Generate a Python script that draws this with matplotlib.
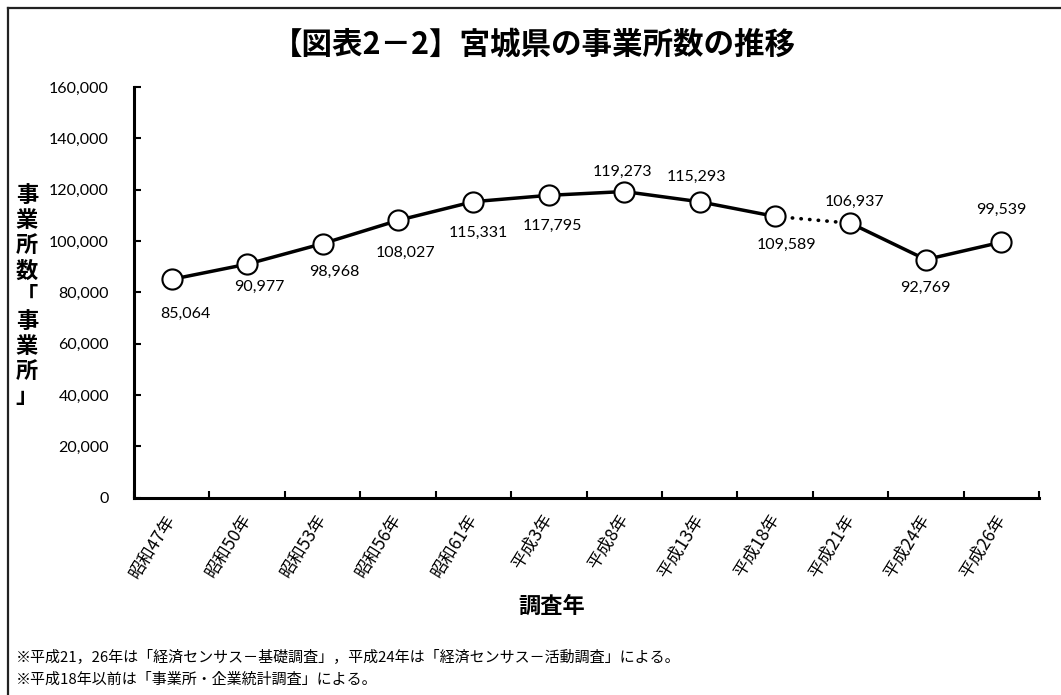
import matplotlib
matplotlib.use("Agg")
import matplotlib.pyplot as plt
from matplotlib.lines import Line2D

plt.rcParams['font.family'] = ['Noto Sans CJK JP', 'DejaVu Sans']

years = ['昭和47年', '昭和50年', '昭和53年', '昭和56年', '昭和61年', '平成3年',
         '平成8年', '平成13年', '平成18年', '平成21年', '平成24年', '平成26年']
counts = [85064, 90977, 98968, 108027, 115331, 117795,
          119273, 115293, 109589, 106937, 92769, 99539]
yticks = [0, 20000, 40000, 60000, 80000, 100000, 120000, 140000, 160000]

title = '【図表2－2】宮城県の事業所数の推移'
ylabel = '事業所数「事業所」'
xlabel = '調査年'
notes = ['※平成21，26年は「経済センサス－基礎調査」，平成24年は「経済センサス－活動調査」による。',
         '※平成18年以前は「事業所・企業統計調査」による。']

# label offsets in pixels (dx, dy) relative to each marker
label_off = [(14, -35), (12, -23), (12, -28), (8, -32), (5, -31), (4, -31),
             (-2, 20), (-3, 25), (11, -28), (4, 21), (0, -28), (0, 32)]

W, H = 1061, 695
fig = plt.figure(figsize=(W / 100, H / 100), dpi=100)
ax = fig.add_axes([134 / W, 1 - 497.7 / H, (1039 - 134) / W, (497.7 - 87) / H])

x = list(range(len(years)))
numfam = ['Lato', 'Noto Sans CJK JP']

# solid parts and dotted connection (survey change)
ax.plot(x[:9], counts[:9], color='black', lw=2.5, solid_capstyle='round', zorder=2)
ax.plot(x[8:10], counts[8:10], color='black', lw=2.6,
        linestyle=(0, (0.1, 2.3)), dash_capstyle='round', zorder=2)
ax.plot(x[9:], counts[9:], color='black', lw=2.5, solid_capstyle='round', zorder=2)
ax.plot(x, counts, linestyle='none', marker='o', ms=14.5, mfc='white',
        mec='black', mew=1.5, zorder=3)

for xi, v, (dx, dy) in zip(x, counts, label_off):
    ax.annotate(f'{v:,}', (xi, v), xytext=(dx, dy), textcoords='offset pixels',
                ha='center', va='center', fontsize=11.5, family=numfam)

ax.set_xlim(-0.5, len(years) - 0.5)
ax.set_ylim(0, 160000)
ax.set_yticks(yticks)
ax.set_yticklabels([f'{t:,}' for t in yticks], family=numfam, fontsize=11.5)
ax.set_xticks(x)
ax.set_xticklabels(years, rotation=58, ha='right', va='center',
                   rotation_mode='anchor', fontsize=12.5)
ax.set_xticks([i - 0.5 for i in range(len(years) + 1)], minor=True)
ax.tick_params(axis='x', which='major', length=0, pad=13)
ax.tick_params(axis='x', which='minor', direction='in', length=5, width=1.5)
ax.tick_params(axis='y', direction='in', length=5, width=1.5, pad=18)

for s in ['top', 'right']:
    ax.spines[s].set_visible(False)
for s in ['left', 'bottom']:
    ax.spines[s].set_linewidth(2.2)

fig.text(0.503, 1 - 45 / H, title, ha='center', va='center', fontsize=22,
         fontweight='bold')
fig.text(27 / W, 1 - 296 / H, '\n'.join(ylabel), ha='center', va='center',
         fontsize=16, fontweight='bold', linespacing=1.12)
fig.text(552 / W, 1 - 606 / H, xlabel, ha='center', va='center', fontsize=16,
         fontweight='bold')
fig.text(16 / W, 1 - 657 / H, notes[0], ha='left', va='center', fontsize=10.8)
fig.text(16 / W, 1 - 680 / H, notes[1], ha='left', va='center', fontsize=10.8)

# outer frame (top and left edges visible)
fig.add_artist(Line2D([8 / W, 1], [1 - 8 / H, 1 - 8 / H], transform=fig.transFigure,
                      color='#222222', lw=1.6))
fig.add_artist(Line2D([8 / W, 8 / W], [0, 1 - 8 / H], transform=fig.transFigure,
                      color='#222222', lw=1.6))

fig.savefig('out.png', dpi=100)
